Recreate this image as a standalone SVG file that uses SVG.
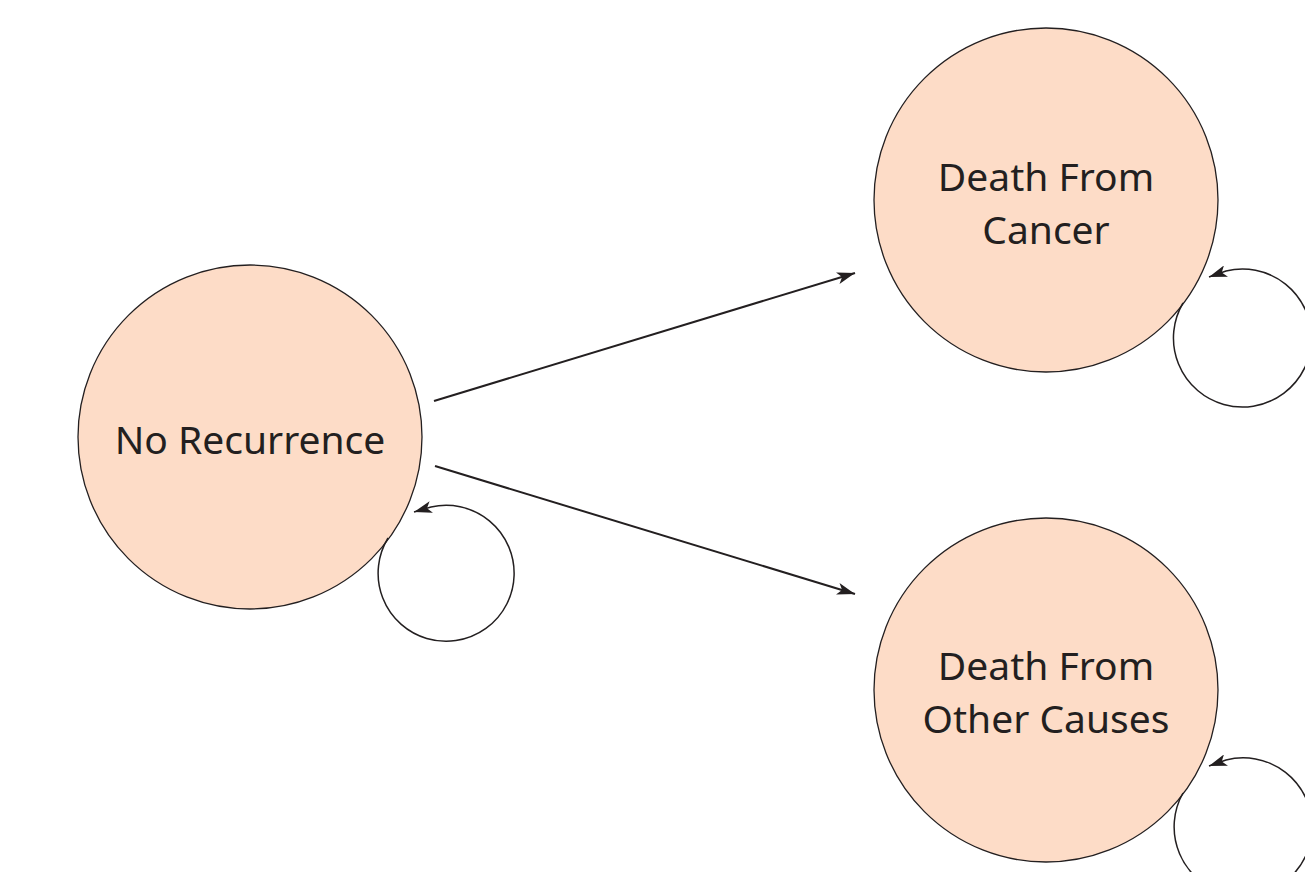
<svg xmlns="http://www.w3.org/2000/svg" width="1305" height="872" viewBox="0 0 1305 872">
<defs>
<style>
.node{fill:#fddcc7;stroke:#231f20;stroke-width:1.3}
.lbl{font-family:"Noto Sans","Open Sans",sans-serif;font-size:39px;fill:#231f20;text-anchor:middle}
.edge{fill:none;stroke:#231f20;stroke-width:2}
.loop{fill:none;stroke:#231f20;stroke-width:1.5}
</style>
<marker id="ah2" viewBox="0 0 10 10" refX="10" refY="5" markerWidth="18" markerHeight="12" markerUnits="userSpaceOnUse" orient="auto" preserveAspectRatio="none">
<path d="M0,0 L10,5 L0,10 L2.5,5 Z" fill="#231f20"/>
</marker>
</defs>
<rect width="1305" height="872" fill="#ffffff"/>
<g id="node-no-recurrence">
<circle class="node" cx="250" cy="437" r="172"/>
<text class="lbl" x="250" y="454">No Recurrence</text>
</g>
<g id="node-death-cancer">
<circle class="node" cx="1046" cy="200" r="172"/>
<text class="lbl" x="1046" y="191">Death From</text>
<text class="lbl" x="1046" y="244">Cancer</text>
</g>
<g id="node-death-other">
<circle class="node" cx="1046" cy="690" r="172"/>
<text class="lbl" x="1046" y="680">Death From</text>
<text class="lbl" x="1046" y="733">Other Causes</text>
</g>
<g id="connectors">
<line class="edge" x1="434" y1="401" x2="855" y2="273" marker-end="url(#ah2)"/>
<line class="edge" x1="435" y1="466" x2="855" y2="594" marker-end="url(#ah2)"/>
<path class="loop" d="M388,538 A68,68 0 1 0 431,507 L414,512" marker-end="url(#ah2)"/>
<path class="loop" d="M1183,303 A69,69 0 1 0 1226,271 L1209,277" marker-end="url(#ah2)"/>
<path class="loop" d="M1183,793 A69,69 0 1 0 1226,760 L1209,766" marker-end="url(#ah2)"/>
</g>
</svg>
